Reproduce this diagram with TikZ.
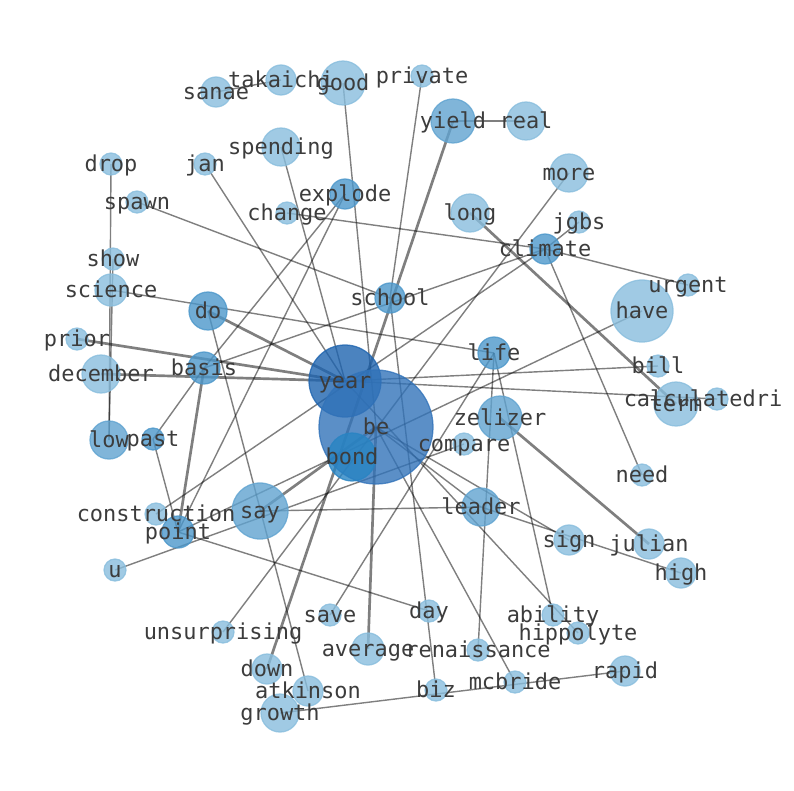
\documentclass[tikz,border=0pt]{standalone}
\usepackage{fontspec}
\setmainfont{DejaVu Sans Mono}
\usetikzlibrary{backgrounds}

\definecolor{cLight}{RGB}{136,189,221}
\definecolor{cMid}{RGB}{96,163,208}
\definecolor{cDark}{RGB}{76,151,202}
\definecolor{cBond}{RGB}{40,132,195}
\definecolor{cBe}{RGB}{50,115,185}
\definecolor{cYear}{RGB}{30,100,175}
\definecolor{cText}{RGB}{60,60,60}

\begin{document}
\begin{tikzpicture}[
    x=0.025cm,
    y=-0.025cm
]


\tikzstyle{word}=[
    circle,
    inner sep=0pt,
    line width=0.9pt,
    fill opacity=0.8,
    draw opacity=0.8
]
\tikzstyle{light}=[word, fill=cLight, draw=cLight]
\tikzstyle{mid}=[word, fill=cMid, draw=cMid]
\tikzstyle{dark}=[word, fill=cDark, draw=cDark]
\tikzstyle{lbl}=[
    inner sep=0pt,
    yshift=-0.05cm,
    text=cText,
    font=\fontsize{15.6}{18}\selectfont,
    text height=11.8pt,
    text depth=3.7pt
]
\tikzstyle{link}=[draw=black, draw opacity=0.5, line width=1pt]
\tikzstyle{heavy}=[link, line width=1.9pt]

\useasboundingbox (0,0) rectangle (794,790);


% word circles
\node[light, minimum size=1.55cm] (have) at (642,311) {};
\node[light, minimum size=0.75cm] (sanae) at (216,92) {};
\node[light, minimum size=0.75cm] (takaichi) at (281,80) {};
\node[light, minimum size=1.1cm] (good) at (343,83) {};
\node[light, minimum size=0.55cm] (private) at (422,76) {};
\node[mid, minimum size=1.1cm] (yield) at (453,121) {};
\node[light, minimum size=0.95cm] (real) at (526,121) {};
\node[light, minimum size=0.95cm] (spending) at (281,147) {};
\node[light, minimum size=0.55cm] (drop) at (111,164) {};
\node[light, minimum size=0.55cm] (jan) at (205,164) {};
\node[light, minimum size=0.95cm] (more) at (569,173) {};
\node[dark, minimum size=0.75cm] (explode) at (345,194) {};
\node[light, minimum size=0.55cm] (spawn) at (137,202) {};
\node[light, minimum size=0.55cm] (change) at (287,213) {};
\node[light, minimum size=0.95cm] (long) at (470,213) {};
\node[light, minimum size=0.55cm] (jgbs) at (579,222) {};
\node[dark, minimum size=0.75cm] (climate) at (545,249) {};
\node[light, minimum size=0.55cm] (show) at (113,259) {};
\node[light, minimum size=0.55cm] (urgent) at (688,285) {};
\node[light, minimum size=0.8cm] (science) at (111,290) {};
\node[dark, minimum size=0.75cm] (school) at (390,298) {};
\node[dark, minimum size=0.95cm] (do) at (208,311) {};
\node[light, minimum size=0.55cm] (prior) at (77,339) {};
\node[dark, minimum size=0.8cm] (life) at (494,353) {};
\node[light, minimum size=0.95cm] (december) at (101,374) {};
\node[dark, minimum size=0.8cm] (basis) at (204,368) {};
\node[light, minimum size=0.55cm] (bill) at (658,366) {};
\node[light, minimum size=1.1cm] (term) at (676,404) {};
\node[light, minimum size=0.55cm] (calculatedri) at (717,399) {};
\node[mid, minimum size=1.1cm] (zelizer) at (500,418) {};
\node[light, minimum size=0.55cm] (compare) at (464,444) {};
\node[word, fill=cYear, draw=cYear, minimum size=1.8cm] (year) at (345,381) {};
\node[word, fill=cBe, draw=cBe, minimum size=2.85cm] (be) at (376,427) {};
\node[word, fill=cBond, draw=cBond, minimum size=1.2cm] (bond) at (352,457) {};
\node[mid, minimum size=0.95cm] (low) at (109,440) {};
\node[dark, minimum size=0.55cm] (past) at (153,439) {};
\node[light, minimum size=0.55cm] (need) at (642,475) {};
\node[mid, minimum size=0.95cm] (leader) at (481,507) {};
\node[mid, minimum size=1.4cm] (say) at (260,511) {};
\node[light, minimum size=0.55cm] (construction) at (156,514) {};
\node[dark, minimum size=0.8cm] (point) at (178,532) {};
\node[light, minimum size=0.75cm] (sign) at (569,540) {};
\node[light, minimum size=0.75cm] (julian) at (649,544) {};
\node[light, minimum size=0.75cm] (high) at (681,573) {};
\node[light, minimum size=0.55cm] (u) at (115,570) {};
\node[light, minimum size=0.55cm] (day) at (429,611) {};
\node[light, minimum size=0.55cm] (save) at (330,615) {};
\node[light, minimum size=0.55cm] (ability) at (553,615) {};
\node[light, minimum size=0.55cm] (hippolyte) at (578,633) {};
\node[light, minimum size=0.55cm] (unsurprising) at (223,632) {};
\node[light, minimum size=0.8cm] (average) at (368,649) {};
\node[light, minimum size=0.55cm] (renaissance) at (478,650) {};
\node[light, minimum size=0.75cm] (rapid) at (625,671) {};
\node[light, minimum size=0.75cm] (down) at (267,669) {};
\node[light, minimum size=0.55cm] (mcbride) at (515,682) {};
\node[light, minimum size=0.75cm] (atkinson) at (308,691) {};
\node[light, minimum size=0.55cm] (biz) at (436,690) {};
\node[light, minimum size=0.95cm] (growth) at (280,713) {};


% words on top
\foreach \w in {have,sanae,takaichi,good,private,yield,real,spending,drop,jan,
    more,explode,spawn,change,long,jgbs,climate,show,urgent,science,school,do,
    prior,life,december,basis,bill,term,zelizer,compare,year,be,bond,low,past,
    need,leader,say,construction,point,sign,julian,high,u,day,save,ability,
    hippolyte,unsurprising,average,renaissance,rapid,down,mcbride,atkinson,
    biz,growth}
    \node[lbl] (\w-txt) at (\w) {\w};
\node[lbl, xshift=-0.35cm] (calculatedri-txt) at (calculatedri) {calculatedri};


% links
\begin{scope}[on background layer]
\draw[link] (sanae.center) -- (takaichi.center);
\draw[link] (yield.center) -- (real.center);
\draw[link] (drop.center) -- (low.center);
\draw[link] (show.center) -- (low.center);
\draw[link] (spawn.center) -- (school.center);
\draw[link] (jan.center) -- (year.center);
\draw[link] (change.center) -- (climate.center);
\draw[heavy] (long.center) -- (term.center);
\draw[link] (climate.center) -- (urgent.center);
\draw[link] (climate.center) -- (jgbs.center);
\draw[link] (climate.center) -- (need.center);
\draw[link] (basis.center) -- (climate.center);
\draw[link] (more.center) -- (unsurprising.center);
\draw[link] (basis.center) -- (explode.center);
\draw[link] (point.center) -- (explode.center);
\draw[link] (spending.center) -- (year.center);
\draw[link] (good.center) -- (be.center);
\draw[link] (private.center) -- (school.center);
\draw[link] (school.center) -- (biz.center);
\draw[heavy] (yield.center) -- (down.center);
\draw[link] (science.center) -- (life.center);
\draw[heavy] (do.center) -- (year.center);
\draw[link] (do.center) -- (atkinson.center);
\draw[heavy] (prior.center) -- (year.center);
\draw[heavy] (december.center) -- (year.center);
\draw[link] (year.center) -- (bill.center);
\draw[link] (year.center) -- (calculatedri.center);
\draw[link] (basis.center) -- (past.center);
\draw[heavy] (basis.center) -- (point.center);
\draw[link] (construction.center) -- (climate.center);
\draw[link] (point.center) -- (have.center);
\draw[link] (u.center) -- (compare.center);
\draw[link] (point.center) -- (day.center);
\draw[link] (past.center) -- (point.center);
\draw[link] (save.center) -- (life.center);
\draw[link] (life.center) -- (renaissance.center);
\draw[link] (life.center) -- (ability.center);
\draw[heavy] (zelizer.center) -- (julian.center);
\draw[link] (year.center) -- (hippolyte.center);
\draw[link] (be.center) -- (mcbride.center);
\draw[heavy] (be.center) -- (average.center);
\draw[heavy] (say.center) -- (be.center);
\draw[link] (say.center) -- (leader.center);
\draw[link] (be.center) -- (leader.center);
\draw[link] (be.center) -- (sign.center);
\draw[link] (leader.center) -- (high.center);
\draw[link] (growth.center) -- (rapid.center);
\end{scope}

\end{tikzpicture}
\end{document}
